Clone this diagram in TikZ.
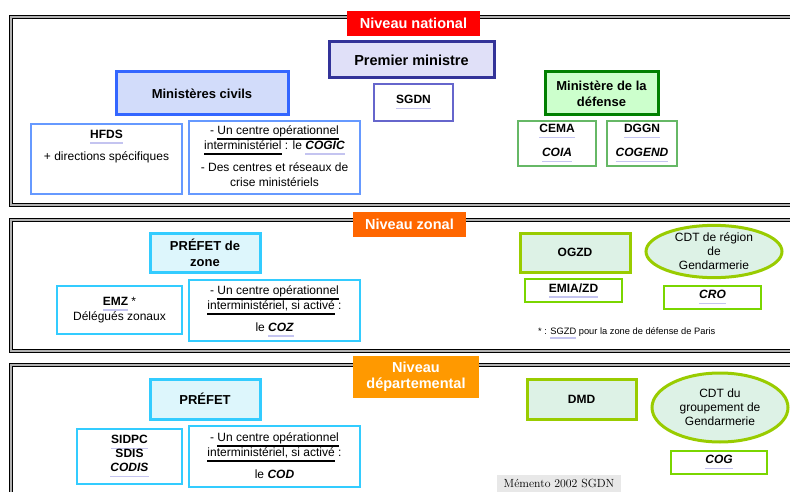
\documentclass[tikz,border=0pt]{standalone}
\usepackage{fontspec}
\setsansfont{Liberation Sans}
\renewcommand\familydefault{\sfdefault}
\usetikzlibrary{positioning,shapes.geometric}

\definecolor{rouge}{HTML}{FF0000}
\definecolor{orangezone}{HTML}{FF6600}
\definecolor{orangedep}{HTML}{FF9900}
\definecolor{bleupm}{HTML}{333399}
\definecolor{fondpm}{HTML}{E0E0F8}
\definecolor{bleusgdn}{HTML}{6666CC}
\definecolor{bleuciv}{HTML}{3366FF}
\definecolor{fondciv}{HTML}{D2DCFA}
\definecolor{bleuclair}{HTML}{6699FF}
\definecolor{vertdef}{HTML}{008000}
\definecolor{fonddef}{HTML}{CCFFCC}
\definecolor{vertclair}{HTML}{66B866}
\definecolor{cyanpref}{HTML}{33CCFF}
\definecolor{fondpref}{HTML}{DDF6FC}
\definecolor{vertpomme}{HTML}{99CC00}
\definecolor{fondmil}{HTML}{DDF2E6}
\definecolor{lavande}{HTML}{C4C4F0}

% soulignements
\newcommand\acro[1]{\leavevmode\setbox0\hbox{#1}\rlap{\color{lavande}\rule[-0.45em]{\wd0}{0.15em}}\box0\relax}
\newcommand\souligne[1]{\leavevmode\setbox0\hbox{#1}\rlap{\rule[-0.5em]{\wd0}{0.18em}}\box0\relax}

\tikzset{
  cadre/.style={draw=black,line width=1.5pt,double=gray!60,double distance=1.1pt},
  niveau/.style={text=white,inner sep=0pt,align=center,
    font=\bfseries\fontsize{14.5}{16}\selectfont},
  chef/.style={draw,line width=3pt,inner sep=0pt,align=center,
    font=\bfseries\fontsize{13}{16}\selectfont},
  service/.style={draw,line width=1.2pt,inner sep=0pt,align=center,
    font=\fontsize{12}{15}\selectfont},
  texte/.style={inner sep=0pt,align=center,font=\fontsize{12}{15}\selectfont}
}

\begin{document}
\begin{tikzpicture}[x=1pt,y=-1pt]
\useasboundingbox (0,0) rectangle (790,492);
\clip (0,0) rectangle (790,492);

% cadres des trois niveaux
\draw[cadre] (11,17) rectangle (830,205);
\draw[cadre] (11,220) rectangle (830,351);
\draw[cadre] (11,365) rectangle (830,530);

% niveau national
\node[niveau,fill=rouge,minimum width=133pt,minimum height=25pt] (national) at (413.5,23.5) {Niveau national};
\node[chef,draw=bleupm,fill=fondpm,minimum width=165pt,minimum height=36pt,
  font=\bfseries\fontsize{14.5}{16}\selectfont] (pm) at (411.5,60) {Premier ministre};
\node[service,draw=bleusgdn,minimum width=79pt,minimum height=37pt,font=\bfseries\fontsize{12}{15}\selectfont]
  (sgdn) at (413.5,102.5) {\acro{SGDN}};
\node[chef,draw=bleuciv,fill=fondciv,minimum width=172pt,minimum height=43pt] (civils) at (202,93.5) {Ministères civils};
\node[service,draw=bleuclair,minimum width=151pt,minimum height=70pt] (hfds) at (106.5,159) {};
\node[texte,below=6.5pt of hfds.north] (hfdstxt) {\textbf{\acro{HFDS}}\\[7pt]+ directions spécifiques};
\node[service,draw=bleuclair,minimum width=171pt,minimum height=73pt] (cogic) at (274.5,157.5) {};
\node[texte,below=5pt of cogic.north] (cogictxt) {- \souligne{Un centre opérationnel}\\
  \souligne{interministériel} : le \acro{\textbf{\textit{COGIC}}}\\[7pt]
  - Des centres et réseaux de\\crise ministériels};
\node[chef,draw=vertdef,fill=fonddef,minimum width=113pt,minimum height=43pt] (defense) at (601.5,93.5) {Ministère de la\\défense};
\node[service,draw=vertclair,minimum width=78pt,minimum height=45pt,font=\bfseries\fontsize{12}{15}\selectfont]
  (cema) at (557,143.5) {\acro{CEMA}\\[9pt]\acro{\textit{COIA}}};
\node[service,draw=vertclair,minimum width=70pt,minimum height=45pt,font=\bfseries\fontsize{12}{15}\selectfont]
  (dggn) at (642,143.5) {\acro{DGGN}\\[9pt]\acro{\textit{COGEND}}};

% niveau zonal
\node[niveau,fill=orangezone,minimum width=113pt,minimum height=25pt] (zonal) at (409.5,224.5) {Niveau zonal};
\node[chef,draw=cyanpref,fill=fondpref,minimum width=110pt,minimum height=39pt] (prefzone) at (205,252.5) {PRÉFET de\\zone};
\node[service,draw=cyanpref,minimum width=125pt,minimum height=48pt] (emz) at (119.5,310) {\textbf{\acro{EMZ}} *\\Délégués zonaux};
\node[service,draw=cyanpref,minimum width=171pt,minimum height=61pt] (coz) at (274.5,310.5) {};
\node[texte,below=6pt of coz.north] (coztxt) {- \souligne{Un centre opérationnel}\\
  \souligne{interministériel, si activé} :\\[7pt]
  le \textbf{\textit{\acro{COZ}}}};
\node[chef,draw=vertpomme,fill=fondmil,minimum width=110pt,minimum height=39pt,
  font=\bfseries\fontsize{12}{15}\selectfont] (ogzd) at (575,252.5) {OGZD};
\node[chef,ellipse,draw=vertpomme,fill=fondmil,minimum width=136pt,minimum height=51pt,
  font=\fontsize{12}{14}\selectfont] (region) at (714,251.5) {CDT de région\\de\\Gendarmerie};
\node[service,draw=vertpomme!80!green,minimum width=97pt,minimum height=23pt,font=\bfseries\fontsize{12}{15}\selectfont]
  (emia) at (573.5,290.5) {\acro{EMIA/ZD}};
\node[service,draw=vertpomme!80!green,minimum width=97pt,minimum height=23pt,font=\bfseries\itshape\fontsize{12}{15}\selectfont]
  (cro) at (712.5,297.5) {\acro{CRO}};
\node[anchor=base west,inner sep=0pt,font=\fontsize{9.3}{11}\selectfont] (renvoi) at (538,334.5)
  {* : \acro{SGZD} pour la zone de défense de Paris};

% niveau departemental
\node[niveau,fill=orangedep,minimum width=126pt,minimum height=42pt] (departemental) at (416,377) {Niveau\\départemental};
\node[chef,draw=cyanpref,fill=fondpref,minimum width=110pt,minimum height=40pt] (prefet) at (205,399) {PRÉFET};
\node[service,draw=cyanpref,minimum width=105pt,minimum height=55pt,font=\bfseries\fontsize{12}{14}\selectfont]
  (sidpc) at (129.5,456.5) {\acro{SIDPC}\\SDIS\\\acro{\textit{CODIS}}};
\node[service,draw=cyanpref,minimum width=171pt,minimum height=61pt] (cod) at (274.5,456.5) {};
\node[texte,below=7pt of cod.north] (codtxt) {- \souligne{Un centre opérationnel}\\
  \souligne{interministériel, si activé} :\\[7pt]
  le \textbf{\textit{COD}}};
\node[chef,draw=vertpomme,fill=fondmil,minimum width=109pt,minimum height=40pt,
  font=\bfseries\fontsize{12}{15}\selectfont] (dmd) at (581.5,399) {DMD};
\node[chef,ellipse,draw=vertpomme,fill=fondmil,minimum width=136pt,minimum height=69pt,
  font=\fontsize{12}{14}\selectfont] (groupement) at (720,407.5) {CDT du\\groupement de\\Gendarmerie};
\node[service,draw=vertpomme!80!green,minimum width=96pt,minimum height=23pt,font=\bfseries\itshape\fontsize{12}{15}\selectfont]
  (cog) at (719,462.5) {\acro{COG}};
\node[fill=gray!18,minimum width=124pt,minimum height=17pt,inner sep=0pt,
  font=\rmfamily\fontsize{11.8}{13}\selectfont] (memento) at (559,483.5) {Mémento 2002 SGDN};
\end{tikzpicture}
\end{document}
